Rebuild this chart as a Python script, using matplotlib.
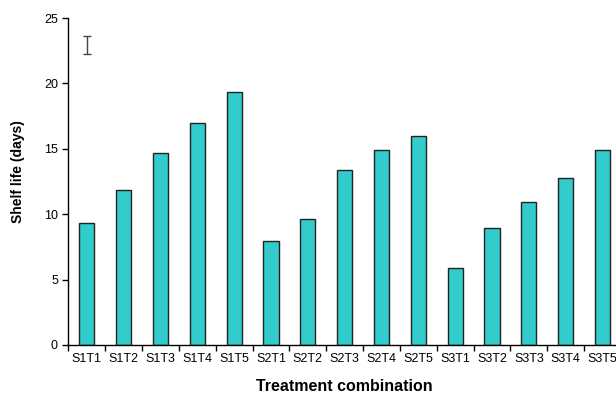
import matplotlib.pyplot as plt
import numpy as np

plt.rcParams['font.family'] = ['Liberation Sans', 'DejaVu Sans']

treatments = ['S1T1', 'S1T2', 'S1T3', 'S1T4', 'S1T5',
              'S2T1', 'S2T2', 'S2T3', 'S2T4', 'S2T5',
              'S3T1', 'S3T2', 'S3T3', 'S3T4', 'S3T5']
shelf_life = [9.33, 11.87, 14.65, 16.97, 19.32,
              7.95, 9.61, 13.4, 14.88, 15.98,
              5.86, 8.97, 10.93, 12.77, 14.9]
# LSD bar drawn in upper left corner
lsd_center = 22.92
lsd_half = 0.68

fig = plt.figure(figsize=(6.16, 3.95), dpi=100)
ax = fig.add_axes([0.111, 0.1266, 0.897, 0.8278])

x = np.arange(len(treatments))
ax.bar(x, shelf_life, width=0.41, color='#33CCCC', edgecolor='#222222', linewidth=1.0)
ax.errorbar([0], [lsd_center], yerr=[lsd_half], fmt='none', ecolor='#444444',
            elinewidth=1.0, capsize=3, capthick=1.0)

ax.set_xlim(-0.5, len(treatments) - 0.5)
ax.set_ylim(0, 25)
ax.set_yticks([0, 5, 10, 15, 20, 25])
ax.set_xticks(x)
ax.set_xticklabels(treatments)
ax.set_xticks(np.arange(-0.5, len(treatments), 1.0), minor=True)
ax.tick_params(axis='x', which='major', length=0, pad=6, labelsize=9)
ax.tick_params(axis='x', which='minor', length=4, width=1, direction='out')
ax.tick_params(axis='y', length=4, width=1, direction='out', labelsize=9)

for s in ['top', 'right']:
    ax.spines[s].set_visible(False)
ax.spines['left'].set_linewidth(1)
ax.spines['bottom'].set_linewidth(1)

ax.set_xlabel('Treatment combination', fontsize=11.5, fontweight='bold', labelpad=10)
ax.set_ylabel('Shelf life (days)', fontsize=10, fontweight='bold', labelpad=14)
ax.yaxis.set_label_coords(-0.078, 0.53)

fig.savefig('out.png', dpi=100)
